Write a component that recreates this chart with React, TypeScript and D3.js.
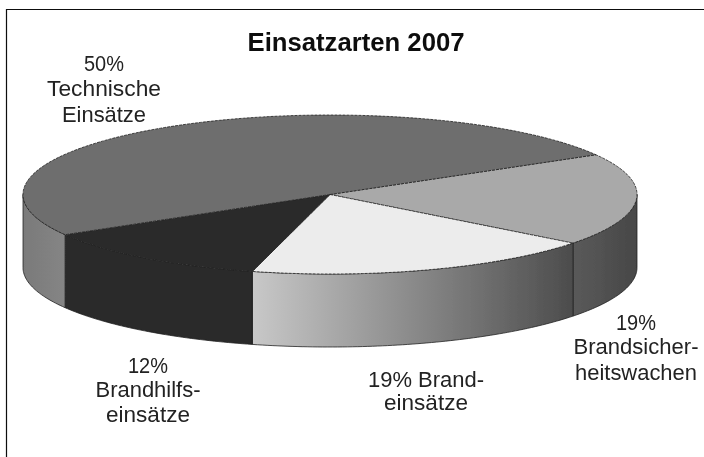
import React from "react";
import * as d3 from "d3";

const title = "Einsatzarten 2007";
const categories = ["Brandsicherheitswachen", "Brandeinsätze", "Brandhilfseinsätze", "Technische Einsätze"];
// Labelled 19 / 19 / 12 / 50 %; unrounded shares as read from the slice edges
const shares = [18.8, 18.6, 12.5, 50.1];
const topColors = ["#a9a9a9", "#ececec", "#2b2b2b", "#6e6e6e"];
const wallStops = [
  ["#5a5a5a", "#474747"],
  ["#c8c8c8", "#4c4c4c"],
  ["#2a2a2a", "#2a2a2a"],
  ["#7a7a7a", "#858585"],
];
const labels = [
  { lines: ["19%", "Brandsicher-", "heitswachen"], x: 636, y: [330, 354, 380] },
  { lines: ["19% Brand-", "einsätze"], x: 426, y: [387, 410] },
  { lines: ["12%", "Brandhilfs-", "einsätze"], x: 148, y: [373, 397, 422] },
  { lines: ["50%", "Technische", "Einsätze"], x: 104, y: [71, 96, 122] },
];
const labelWidths = [
  [40, 125, 122],
  [116, 84],
  [40, 105, 84],
  [40, 114, 84],
];

const cx = 330, cy = 194.5, rx = 307, ry = 79.5, depth = 73;
const START = Math.PI / 3; // d3 pie angle, clockwise from 12 o'clock

const xs = d3.scaleLinear().domain([-1, 1]).range([cx - rx, cx + rx]);
const ys = d3.scaleLinear().domain([-1, 1]).range([cy - ry, cy + ry]);
const pie = d3.pie<number>().sort(null).startAngle(START).endAngle(START + 2 * Math.PI);
const arcs = pie(shares);
const pt = (a: number): [number, number] => [xs(Math.sin(a)), ys(-Math.cos(a))];
const sample = (a0: number, a1: number) => {
  const n = Math.max(2, Math.ceil(Math.abs(a1 - a0) * 60));
  return d3.range(n + 1).map((i) => pt(a0 + ((a1 - a0) * i) / n));
};
const line = d3.line();
const topPath = (a0: number, a1: number) =>
  line([[cx, cy], ...sample(a0, a1)])! + "Z";
// the visible wall is the front half: d3 angles pi/2 .. 3pi/2
const wallPath = (a0: number, a1: number) => {
  const s = Math.max(a0, Math.PI / 2), e = Math.min(a1, (3 * Math.PI) / 2);
  if (e <= s) return null;
  const upper = sample(s, e);
  const lower = upper.slice().reverse().map(([x, y]) => [x, y + depth] as [number, number]);
  return { d: line([...upper, ...lower])! + "Z", x0: pt(s)[0], x1: pt(e)[0] };
};

export default function App() {
  return (
    <svg
      width={704}
      height={457}
      style={{ position: "absolute", left: 0, top: 0, background: "#fff" }}
      fontFamily="'Liberation Sans', Arial, sans-serif"
    >
      <defs>
        <filter id="soft" x="-5%" y="-5%" width="110%" height="110%">
          <feGaussianBlur stdDeviation={0.45} />
        </filter>
        {arcs.map((a, i) => {
          const w = wallPath(a.startAngle, a.endAngle);
          return w ? (
            <linearGradient key={i} id={`wall${i}`} gradientUnits="userSpaceOnUse" x1={Math.min(w.x0, w.x1)} x2={Math.max(w.x0, w.x1)} y1={0} y2={0}>
              <stop offset="0%" stopColor={wallStops[i][0]} />
              <stop offset="100%" stopColor={wallStops[i][1]} />
            </linearGradient>
          ) : null;
        })}
      </defs>
      <g filter="url(#soft)">
        <path d="M6.5 457V9.5H704" fill="none" stroke="#111" strokeWidth={1.2} />
        {arcs.map((a, i) => {
          const w = wallPath(a.startAngle, a.endAngle);
          return w ? <path key={i} d={w.d} fill={`url(#wall${i})`} stroke="#222" strokeWidth={0.8} /> : null;
        })}
        {arcs.map((a, i) => (
          <path key={categories[i]} d={topPath(a.startAngle, a.endAngle)} fill={topColors[i]} stroke="#222" strokeWidth={0.8} strokeDasharray="3 1" />
        ))}
        <text x={356} y={51} textAnchor="middle" fontSize={26} fontWeight="bold" fill="#111" textLength={217} lengthAdjust="spacingAndGlyphs">{title}</text>
        {labels.map((l, i) =>
          l.lines.map((t, j) => (
            <text key={`${i}-${j}`} x={l.x} y={l.y[j]} textAnchor="middle" fontSize={22.5} fill="#222" textLength={labelWidths[i][j]} lengthAdjust="spacingAndGlyphs">{t}</text>
          ))
        )}
      </g>
    </svg>
  );
}
